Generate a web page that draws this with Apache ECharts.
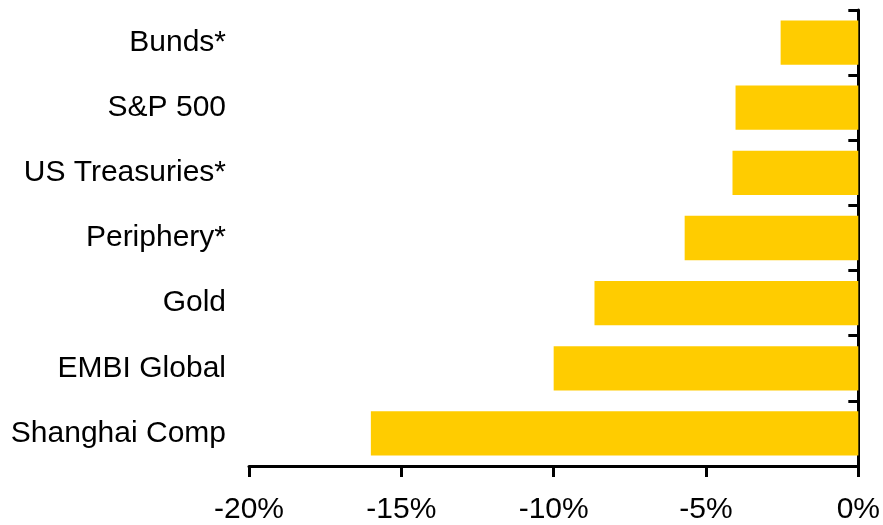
<!DOCTYPE html>
<html>
<head>
<meta charset="utf-8">
<script src="https://cdn.jsdelivr.net/npm/echarts@6/dist/echarts.min.js"></script>
<style>
  html, body { margin: 0; padding: 0; background: #fff; }
  #chart { width: 883px; height: 525px; }
</style>
</head>
<body>
<div id="chart"></div>
<script>
// categories top -> bottom
var categories = ["Bunds*", "S&P 500", "US Treasuries*", "Periphery*", "Gold", "EMBI Global", "Shanghai Comp"];
// % change
var values = [-2.55, -4.03, -4.13, -5.7, -8.66, -10.0, -16.0];

var font = "Liberation Sans, Arial, sans-serif";
var myChart = echarts.init(document.getElementById("chart"));

var option = {
  animation: false,
  grid: {
    left: 249,
    right: 24,
    top: 10,
    bottom: 58
  },
  xAxis: {
    type: "value",
    min: -20,
    max: 0,
    interval: 5,
    axisLine: { show: true, lineStyle: { color: "#000", width: 3 } },
    axisTick: { show: true, length: 11, lineStyle: { color: "#000", width: 3 } },
    axisLabel: {
      color: "#000",
      fontFamily: font,
      fontSize: 30,
      margin: 29,
      formatter: function (v) { return v + "%"; }
    },
    splitLine: { show: false }
  },
  yAxis: [
    {
      type: "category",
      data: categories,
      inverse: true,
      position: "left",
      axisLine: { show: false },
      axisTick: { show: false },
      axisLabel: {
        color: "#000",
        fontFamily: font,
        fontSize: 30,
        margin: 23
      }
    },
    {
      type: "category",
      data: categories,
      inverse: true,
      position: "right",
      axisLine: { show: true, onZero: false, lineStyle: { color: "#000", width: 3 } },
      axisTick: { show: true, inside: true, length: 10, lineStyle: { color: "#000", width: 3 } },
      axisLabel: { show: false }
    }
  ],
  series: [
    {
      type: "bar",
      yAxisIndex: 0,
      data: values,
      barCategoryGap: "32%",
      itemStyle: { color: "#FFCC00" }
    }
  ]
};
myChart.setOption(option);
</script>
</body>
</html>
